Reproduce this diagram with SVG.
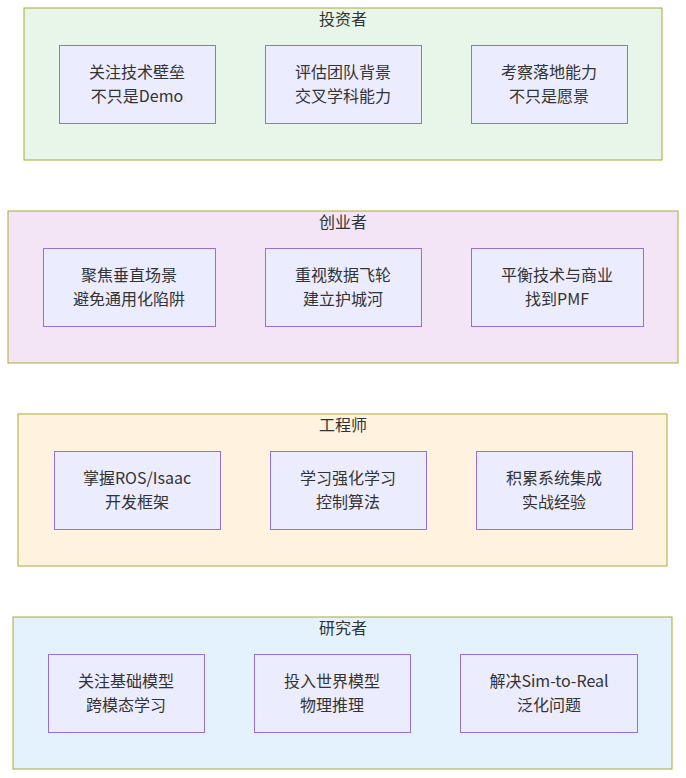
<svg xmlns="http://www.w3.org/2000/svg" width="686" height="778" viewBox="0 0 686 778">
<style>
.cl{stroke:#aaaa33;stroke-width:1}
.nd{fill:#ECECFF;stroke:#9370DB;stroke-width:1}
text{font-family:"Noto Sans CJK SC","Noto Sans",sans-serif;font-size:16px;fill:#333;text-anchor:middle}
</style>
<rect width="686" height="778" fill="#ffffff"/>
<g id="investor">
<rect class="cl" x="24" y="8" width="638" height="152" fill="#e8f5e9"/>
<text x="343" y="25">投资者</text>
</g>
<g id="inv1"><rect class="nd" x="59.5" y="45.5" width="156" height="78"/><text x="137" y="78">关注技术壁垒</text><text x="137" y="102">不只是Demo</text></g>
<g id="inv2"><rect class="nd" x="265.5" y="45.5" width="156" height="78"/><text x="343" y="78">评估团队背景</text><text x="343" y="102">交叉学科能力</text></g>
<g id="inv3"><rect class="nd" x="471.5" y="45.5" width="156" height="78"/><text x="549" y="78">考察落地能力</text><text x="549" y="102">不只是愿景</text></g>

<g id="founder">
<rect class="cl" x="8" y="211" width="670" height="152" fill="#f3e5f5"/>
<text x="343" y="228">创业者</text>
</g>
<g id="fd1"><rect class="nd" x="43.5" y="248.5" width="172" height="78"/><text x="129" y="281">聚焦垂直场景</text><text x="129" y="305">避免通用化陷阱</text></g>
<g id="fd2"><rect class="nd" x="265.5" y="248.5" width="156" height="78"/><text x="343" y="281">重视数据飞轮</text><text x="343" y="305">建立护城河</text></g>
<g id="fd3"><rect class="nd" x="471.5" y="248.5" width="172" height="78"/><text x="557" y="281">平衡技术与商业</text><text x="557" y="305">找到PMF</text></g>

<g id="engineer">
<rect class="cl" x="18" y="414" width="649" height="152" fill="#fff3e0"/>
<text x="343" y="431">工程师</text>
</g>
<g id="en1"><rect class="nd" x="54.5" y="451.5" width="166" height="78"/><text x="137" y="484">掌握ROS/Isaac</text><text x="137" y="508">开发框架</text></g>
<g id="en2"><rect class="nd" x="270.5" y="451.5" width="156" height="78"/><text x="348" y="484">学习强化学习</text><text x="348" y="508">控制算法</text></g>
<g id="en3"><rect class="nd" x="476.5" y="451.5" width="156" height="78"/><text x="554" y="484">积累系统集成</text><text x="554" y="508">实战经验</text></g>

<g id="researcher">
<rect class="cl" x="13" y="617" width="659" height="152" fill="#e3f2fd"/>
<text x="343" y="634">研究者</text>
</g>
<g id="rs1"><rect class="nd" x="48.5" y="654.5" width="156" height="78"/><text x="126" y="687">关注基础模型</text><text x="126" y="711">跨模态学习</text></g>
<g id="rs2"><rect class="nd" x="254.5" y="654.5" width="156" height="78"/><text x="332" y="687">投入世界模型</text><text x="332" y="711">物理推理</text></g>
<g id="rs3"><rect class="nd" x="460.5" y="654.5" width="177" height="78"/><text x="549" y="687">解决Sim-to-Real</text><text x="549" y="711">泛化问题</text></g>
<g id="connectors"></g>
</svg>
